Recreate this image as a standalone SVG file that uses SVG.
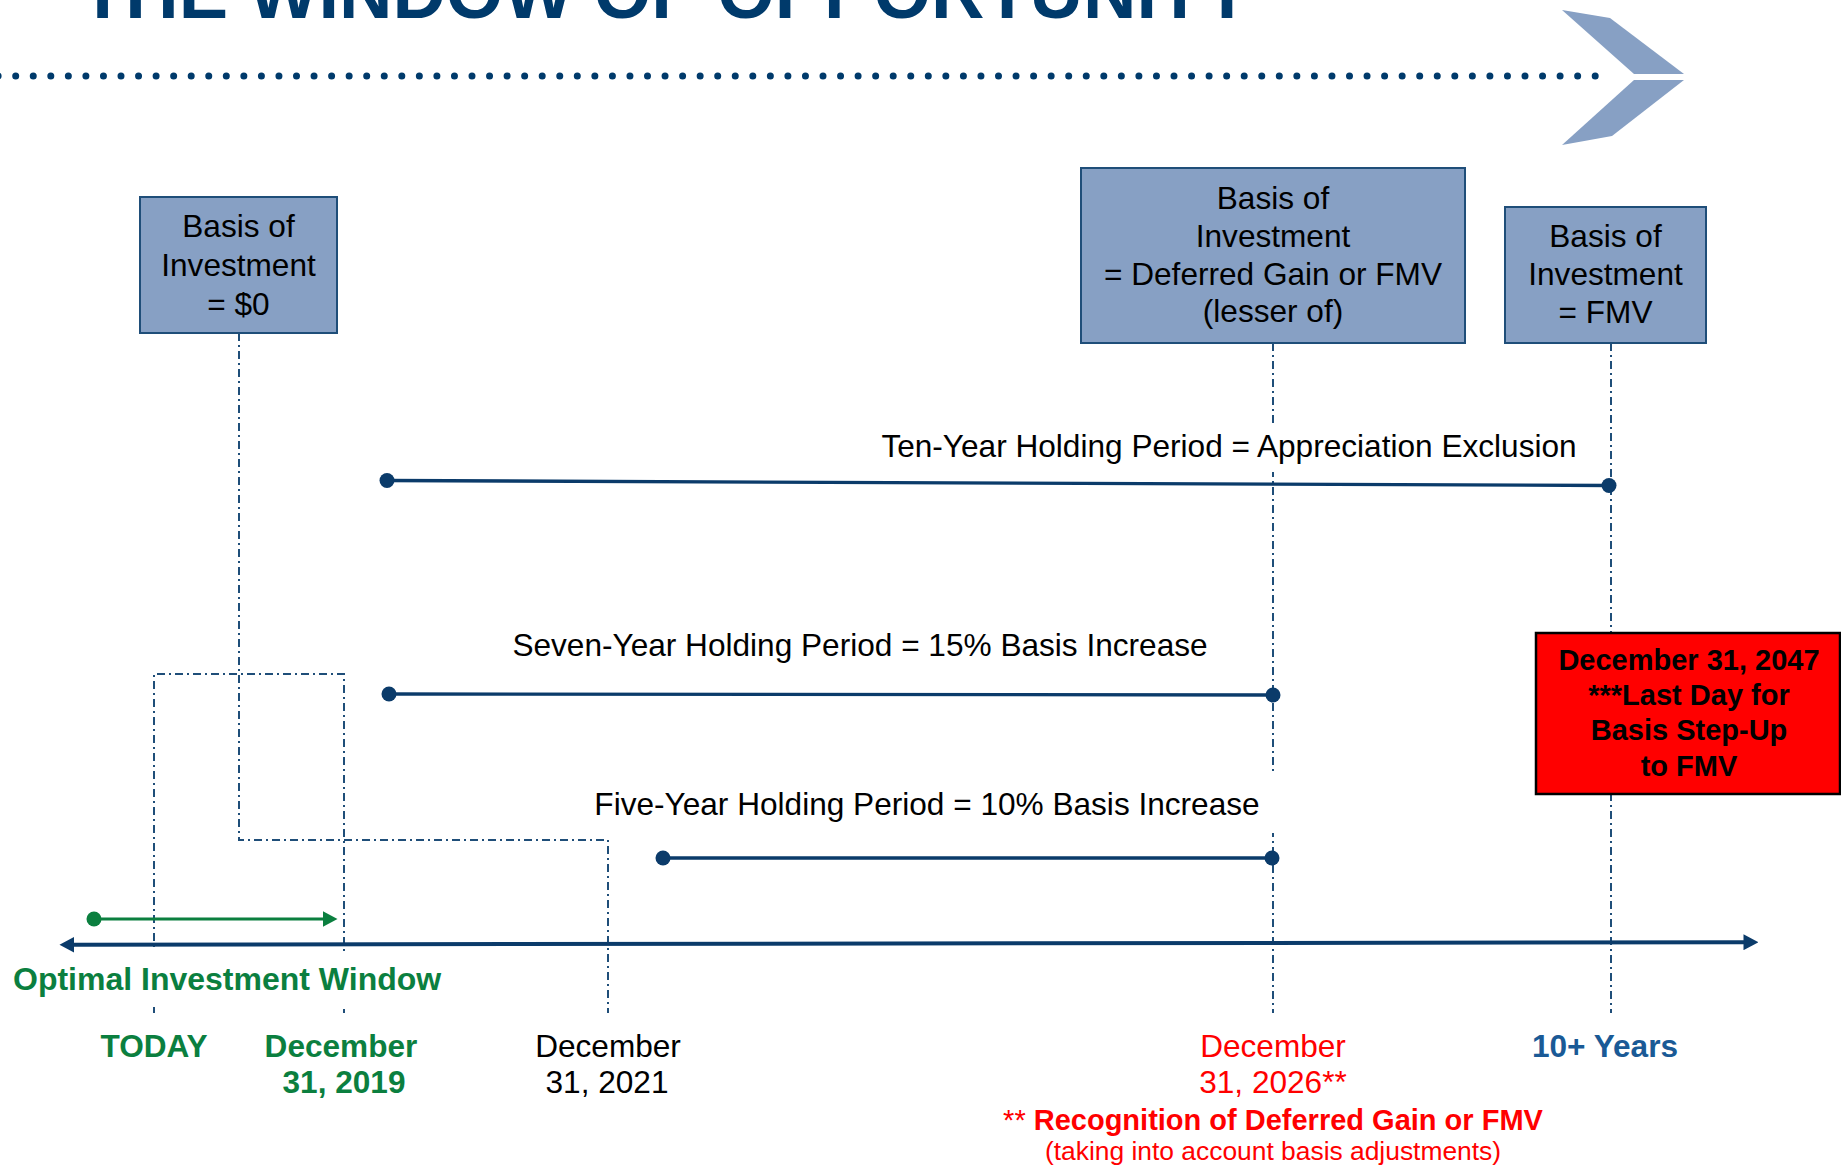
<svg xmlns="http://www.w3.org/2000/svg" width="1841" height="1169" viewBox="0 0 1841 1169">
  <style>
    text { font-family: "Liberation Sans", Arial, Helvetica, sans-serif; }
    .box { fill: #87A0C4; stroke: #1F4E79; stroke-width: 2; }
    .boxtxt { font-size: 31.6px; fill: #000; text-anchor: middle; }
    .guide { fill: none; stroke: #1F4E79; stroke-width: 2; stroke-dasharray: 8 4 2 4; }
    .period { stroke: #0B3B6A; stroke-width: 3.3; fill: none; }
    .pdot { fill: #0B3B6A; }
    .plabel { font-size: 31.6px; fill: #000; text-anchor: middle; }
    .bg { fill: #fff; }
    .green { fill: #0B7F3F; font-weight: bold; }
    .date { font-size: 31.6px; text-anchor: middle; }
    .chev { fill: #87A0C4; }
  </style>
  <defs>
    <marker id="axisHead" viewBox="0 0 15 16" refX="0.5" refY="8" markerWidth="15" markerHeight="16" markerUnits="userSpaceOnUse" orient="auto-start-reverse">
      <path d="M0,0 L15,8 L0,16 Z" fill="#0B3B6A"/>
    </marker>
    <marker id="greenHead" viewBox="0 0 15 16" refX="0.5" refY="8" markerWidth="15" markerHeight="16" markerUnits="userSpaceOnUse" orient="auto">
      <path d="M0,0 L15,8 L0,16 Z" fill="#0B7F3F"/>
    </marker>
  </defs>

  <rect width="1841" height="1169" fill="#fff"/>

  <!-- header: title, dotted rule and chevron -->
  <g id="header">
    <text x="80" y="18" font-size="74" font-weight="bold" fill="#003A6B">THE WINDOW OF OPPORTUNITY</text>
    <line x1="-1.85" y1="76" x2="1597" y2="76" stroke="#003A6B" stroke-width="7" stroke-linecap="round" stroke-dasharray="0 17.55"/>
    <polygon class="chev" points="1562,10 1610,18 1684,74 1634,74"/>
    <polygon class="chev" points="1634,80 1684,80 1612,136 1562,145"/>
  </g>

  <!-- dash-dot guide lines -->
  <g id="connectors">
    <path class="guide" d="M239,333 V840 H608 V1013"/>
    <path class="guide" d="M154,1013 V674 H344 V1013"/>
    <path class="guide" d="M1273,343 V1013"/>
    <path class="guide" d="M1611,343 V1013"/>
  </g>

  <!-- holding period labels -->
  <g id="period-labels">
    <rect class="bg" x="868" y="425" width="727" height="47"/>
    <text class="plabel" x="1229" y="457">Ten-Year Holding Period = Appreciation Exclusion</text>
    <rect class="bg" x="500" y="620" width="720" height="47"/>
    <text class="plabel" x="860" y="656">Seven-Year Holding Period = 15% Basis Increase</text>
    <rect class="bg" x="583" y="775" width="697" height="58"/>
    <text class="plabel" x="927" y="815">Five-Year Holding Period = 10% Basis Increase</text>
  </g>

  <!-- holding period spans -->
  <g id="periods">
    <line class="period" x1="387" y1="480.5" x2="1609" y2="485.5"/>
    <circle class="pdot" cx="387" cy="480.5" r="7.5"/>
    <circle class="pdot" cx="1609" cy="485.5" r="7.5"/>
    <line class="period" x1="389" y1="694" x2="1273" y2="695"/>
    <circle class="pdot" cx="389" cy="694" r="7.5"/>
    <circle class="pdot" cx="1273" cy="695" r="7.5"/>
    <line class="period" x1="663" y1="858" x2="1272" y2="858"/>
    <circle class="pdot" cx="663" cy="858" r="7.5"/>
    <circle class="pdot" cx="1272" cy="858" r="7.5"/>
  </g>

  <!-- optimal investment window -->
  <g id="window">
    <line x1="94" y1="919" x2="323" y2="919" stroke="#0B7F3F" stroke-width="3" marker-end="url(#greenHead)"/>
    <circle cx="94" cy="919" r="7.5" fill="#0B7F3F"/>
    <rect class="bg" x="0" y="951" width="452" height="56"/>
    <text class="green" x="13" y="990" font-size="32">Optimal Investment Window</text>
  </g>

  <!-- time axis -->
  <g id="axis">
    <line x1="74" y1="944.8" x2="1744" y2="942.2" stroke="#0B3B6A" stroke-width="4" marker-start="url(#axisHead)" marker-end="url(#axisHead)"/>
  </g>

  <!-- axis date labels -->
  <g id="dates">
    <text class="green date" x="154" y="1057" font-size="30">TODAY</text>
    <text class="green date" x="341" y="1057" font-size="30">December</text>
    <text class="green date" x="344" y="1093" font-size="30">31, 2019</text>
    <text class="date" x="608" y="1057" fill="#000">December</text>
    <text class="date" x="607" y="1093" fill="#000">31, 2021</text>
    <text class="date" x="1273" y="1057" fill="#FF0000">December</text>
    <text class="date" x="1273" y="1093" fill="#FF0000">31, 2026**</text>
    <text x="1273" y="1130" font-size="29" fill="#FF0000" text-anchor="middle">** <tspan font-weight="bold">Recognition of Deferred Gain or FMV</tspan></text>
    <text x="1273" y="1160" font-size="26.4" fill="#FF0000" text-anchor="middle">(taking into account basis adjustments)</text>
    <text class="date" x="1605" y="1057" font-size="31" font-weight="bold" fill="#1A5A96">10+ Years</text>
  </g>

  <!-- basis boxes -->
  <g id="box-basis-zero">
    <rect class="box" x="140" y="197" width="197" height="136"/>
    <text class="boxtxt" x="238.5" y="237">Basis of</text>
    <text class="boxtxt" x="238.5" y="276">Investment</text>
    <text class="boxtxt" x="238.5" y="315">= $0</text>
  </g>
  <g id="box-basis-deferred">
    <rect class="box" x="1081" y="168" width="384" height="175"/>
    <text class="boxtxt" x="1273" y="209">Basis of</text>
    <text class="boxtxt" x="1273" y="247">Investment</text>
    <text class="boxtxt" x="1273" y="285">= Deferred Gain or FMV</text>
    <text class="boxtxt" x="1273" y="322">(lesser of)</text>
  </g>
  <g id="box-basis-fmv">
    <rect class="box" x="1505" y="207" width="201" height="136"/>
    <text class="boxtxt" x="1605.5" y="247">Basis of</text>
    <text class="boxtxt" x="1605.5" y="285">Investment</text>
    <text class="boxtxt" x="1605.5" y="323">= FMV</text>
  </g>
  <g id="box-deadline">
    <rect x="1536" y="633" width="304" height="161" fill="#FF0000" stroke="#000" stroke-width="2.5"/>
    <g font-size="29" font-weight="bold" fill="#000" text-anchor="middle">
      <text x="1689" y="670">December 31, 2047</text>
      <text x="1689" y="705">***Last Day for</text>
      <text x="1689" y="740">Basis Step-Up</text>
      <text x="1689" y="776">to FMV</text>
    </g>
  </g>
</svg>
